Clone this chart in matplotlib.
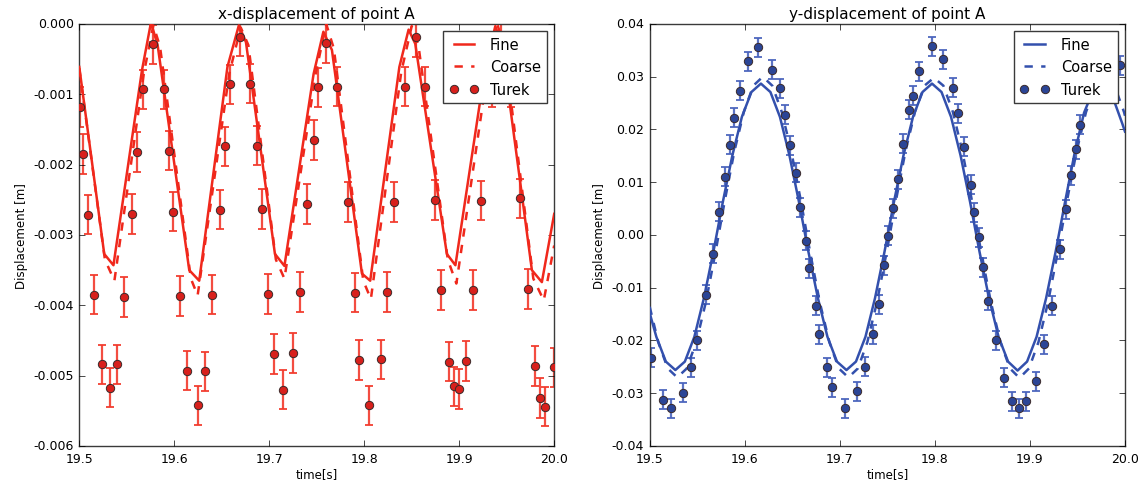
import matplotlib
matplotlib.use("Agg")
import matplotlib.pyplot as plt
from matplotlib.ticker import FormatStrFormatter, MultipleLocator

plt.style.use("classic")
plt.rcParams.update({
    "figure.facecolor": "white",
    "savefig.facecolor": "white",
    "font.family": ["DejaVu Sans"],
    "xtick.labelsize": 9,
    "ytick.labelsize": 9,
    "axes.labelsize": 8.5,
    "axes.titlesize": 11,
    "legend.fontsize": 10.5,
    "axes.edgecolor": "#3a3a3a",
})

# ---------------- x-displacement of point A ----------------
t_fine_x = [19.500, 19.5263, 19.536, 19.566, 19.5755, 19.5825, 19.6158, 19.6263,
            19.656, 19.668, 19.6755, 19.706, 19.716, 19.7467, 19.757, 19.766,
            19.7976, 19.8063, 19.837, 19.8467, 19.8537, 19.887, 19.896, 19.927,
            19.938, 19.945, 19.9765, 19.987, 20.000]
ux_fine = [-0.00061, -0.00327, -0.00343, -0.00066, 0.00002, -0.00030, -0.00350, -0.00365,
           -0.00061, -0.00002, -0.00026, -0.00327, -0.00344, -0.00071, -0.00011, -0.00037,
           -0.00355, -0.00365, -0.00061, -0.00008, -0.00028, -0.00327, -0.00343, -0.00065,
           -0.00003, -0.00030, -0.00350, -0.00367, -0.00270]

t_coarse_x = [19.500, 19.527, 19.537, 19.568, 19.578, 19.585, 19.6175, 19.6246,
              19.658, 19.670, 19.678, 19.707, 19.716, 19.749, 19.760, 19.768,
              19.799, 19.807, 19.839, 19.850, 19.857, 19.888, 19.897, 19.929,
              19.940, 19.947, 19.978, 19.989, 20.000]
ux_coarse = [-0.00063, -0.00335, -0.00365, -0.00070, -0.00002, -0.00032, -0.00362, -0.00386,
             -0.00070, -0.00005, -0.00030, -0.00335, -0.00362, -0.00070, 0.00000, -0.00035,
             -0.00365, -0.00391, -0.00068, -0.00003, -0.00030, -0.00335, -0.00369, -0.00075,
             0.00000, -0.00030, -0.00362, -0.00393, -0.00315]

t_turek_x = [19.5008, 19.504, 19.509, 19.516, 19.524, 19.532, 19.540, 19.547, 19.555, 19.561,
             19.567, 19.578, 19.589, 19.595, 19.599, 19.606, 19.613, 19.625, 19.632, 19.640,
             19.648, 19.653, 19.659, 19.669, 19.680, 19.687, 19.692, 19.699, 19.705, 19.715,
             19.725, 19.732, 19.740, 19.7467, 19.751, 19.760, 19.771, 19.783, 19.790, 19.795,
             19.805, 19.818, 19.824, 19.831, 19.8425, 19.854, 19.864, 19.874, 19.881, 19.8895,
             19.894, 19.900, 19.907, 19.915, 19.923, 19.934, 19.944, 19.955, 19.964, 19.972,
             19.980, 19.985, 19.990, 19.9995]
ux_turek = [-0.00118, -0.00185, -0.00271, -0.00385, -0.00484, -0.00517, -0.00484, -0.00388,
            -0.00270, -0.00182, -0.00093, -0.00029, -0.00093, -0.00180, -0.00267, -0.00387,
            -0.00493, -0.00542, -0.00494, -0.00385, -0.00264, -0.00174, -0.00086, -0.00018,
            -0.00085, -0.00173, -0.00263, -0.00384, -0.00469, -0.00520, -0.00468, -0.00381,
            -0.00256, -0.00165, -0.00090, -0.00027, -0.00089, -0.00253, -0.00382, -0.00478,
            -0.00542, -0.00477, -0.00381, -0.00253, -0.00089, -0.00019, -0.00089, -0.00250,
            -0.00378, -0.00480, -0.00515, -0.00519, -0.00479, -0.00378, -0.00251, -0.00090,
            -0.00020, -0.00090, -0.00248, -0.00377, -0.00486, -0.00532, -0.00544, -0.00488]
ux_err = 0.00028

# ---------------- y-displacement of point A ----------------
t_fine_y = [19.500, 19.507, 19.517, 19.527, 19.537, 19.547, 19.557, 19.567, 19.577, 19.587,
            19.597, 19.607, 19.617, 19.627, 19.637, 19.647, 19.657, 19.667, 19.677, 19.687,
            19.697, 19.707, 19.717, 19.727, 19.737, 19.747, 19.757, 19.767, 19.777, 19.787,
            19.797, 19.807, 19.817, 19.827, 19.837, 19.847, 19.857, 19.867, 19.877, 19.887,
            19.897, 19.907, 19.917, 19.927, 19.937, 19.947, 19.957, 19.967, 19.977, 19.987,
            19.997, 20.000]
uy_fine = [-0.0148, -0.0193, -0.0240, -0.0256, -0.0240, -0.0193, -0.0120, -0.0032, 0.0063, 0.0151,
           0.0224, 0.0271, 0.0287, 0.0271, 0.0224, 0.0151, 0.0063, -0.0032, -0.0120, -0.0193,
           -0.0240, -0.0256, -0.0240, -0.0193, -0.0120, -0.0032, 0.0063, 0.0151, 0.0224, 0.0271,
           0.0287, 0.0271, 0.0224, 0.0151, 0.0063, -0.0032, -0.0120, -0.0193, -0.0240, -0.0257,
           -0.0240, -0.0193, -0.0120, -0.0032, 0.0063, 0.0155, 0.0232, 0.0276, 0.0285, 0.0262,
           0.0212, 0.0196]

t_coarse_y = [19.500, 19.509, 19.519, 19.529, 19.539, 19.549, 19.559, 19.569, 19.579, 19.589,
              19.599, 19.609, 19.619, 19.629, 19.639, 19.649, 19.659, 19.669, 19.679, 19.689,
              19.699, 19.709, 19.719, 19.729, 19.739, 19.749, 19.759, 19.769, 19.779, 19.789,
              19.799, 19.809, 19.819, 19.829, 19.839, 19.849, 19.859, 19.869, 19.879, 19.889,
              19.899, 19.909, 19.919, 19.929, 19.939, 19.949, 19.959, 19.969, 19.979, 19.989,
              19.999, 20.000]
uy_coarse = [-0.0136, -0.0203, -0.0253, -0.0270, -0.0253, -0.0203, -0.0128, -0.0035, 0.0065, 0.0158,
             0.0233, 0.0283, 0.0300, 0.0283, 0.0233, 0.0158, 0.0065, -0.0035, -0.0128, -0.0203,
             -0.0253, -0.0270, -0.0253, -0.0203, -0.0128, -0.0035, 0.0065, 0.0158, 0.0233, 0.0283,
             0.0298, 0.0283, 0.0233, 0.0158, 0.0065, -0.0035, -0.0128, -0.0203, -0.0253, -0.0271,
             -0.0253, -0.0203, -0.0128, -0.0035, 0.0065, 0.0158, 0.0233, 0.0283, 0.0300, 0.0283,
             0.0233, 0.0226]

t_turek_y = [19.5014, 19.5143, 19.5224, 19.5346, 19.5433, 19.5493, 19.5591, 19.5661, 19.573, 19.579,
             19.5843, 19.5888, 19.5948, 19.6035, 19.6144, 19.629, 19.6367, 19.642, 19.6475, 19.6535,
             19.658, 19.664, 19.6675, 19.6745, 19.678, 19.6868, 19.692, 19.7053, 19.7183, 19.727,
             19.7346, 19.741, 19.7467, 19.7511, 19.7564, 19.7616, 19.7668, 19.7731, 19.7766, 19.7836,
             19.7965, 19.8088, 19.8186, 19.8246, 19.8305, 19.8385, 19.8414, 19.8466, 19.8508, 19.856,
             19.8641, 19.8725, 19.8815, 19.8886, 19.8956, 19.9061, 19.9145, 19.9232, 19.9319, 19.9382,
             19.9434, 19.9487, 19.9529, 19.960, 19.968, 19.978, 19.9948]
uy_turek = [-0.0233, -0.0312, -0.0328, -0.0299, -0.0251, -0.0200, -0.0113, -0.0036, 0.0044, 0.0110,
            0.0171, 0.0222, 0.0273, 0.0329, 0.0356, 0.0313, 0.0278, 0.0228, 0.0170, 0.0118,
            0.0053, -0.0011, -0.0063, -0.0134, -0.0188, -0.0251, -0.0289, -0.0328, -0.0296, -0.0250,
            -0.0188, -0.0131, -0.0057, -0.0001, 0.0051, 0.0106, 0.0173, 0.0237, 0.0264, 0.0310,
            0.0358, 0.0333, 0.0279, 0.0231, 0.0167, 0.0095, 0.0043, -0.0004, -0.0061, -0.0125,
            -0.0200, -0.0271, -0.0315, -0.0328, -0.0315, -0.0277, -0.0207, -0.0134, -0.0027, 0.0049,
            0.0113, 0.0163, 0.0209, 0.0280, 0.0330, 0.0356, 0.0322]
uy_err = 0.0018

x_ticks = [19.5, 19.6, 19.7, 19.8, 19.9, 20.0]

red_line = "#f0281c"
red_face = "#d8201c"
red_bar = "#f23a2c"
blue_line = "#3350ad"
blue_face = "#2b4596"
blue_bar = "#4a64bd"

fig = plt.figure(figsize=(11.42, 4.89), dpi=100)
ax1 = fig.add_axes([0.0694, 0.0859, 0.4159, 0.863])
ax2 = fig.add_axes([0.5689, 0.0859, 0.4162, 0.863])


def draw(ax, tf, vf, tc, vc, tt, vt, err, lc, fc, bc):
    ax.errorbar(tt, vt, yerr=err, fmt="none", ecolor=bc, elinewidth=1.6,
                capsize=2.6, capthick=1.4, alpha=0.9, zorder=2)
    ax.plot(tf, vf, "-", color=lc, lw=1.8, label="Fine", zorder=3)
    ax.plot(tc, vc, "--", color=lc, lw=1.8, label="Coarse", zorder=3)
    ax.plot(tt, vt, "o", ms=6, mfc=fc, mec="#3a2a2a", mew=0.7,
            label="Turek", zorder=4)
    ax.set_xlim(19.5, 20.0)
    ax.set_xticks(x_ticks)
    ax.xaxis.set_major_formatter(FormatStrFormatter("%.1f"))
    ax.set_xlabel("time[s]", labelpad=2)
    ax.set_ylabel("Displacement [m]", labelpad=4)
    leg = ax.legend(loc="upper right", numpoints=2, handlelength=2.0,
                    borderaxespad=0.5, framealpha=1.0, fancybox=False)
    leg.get_frame().set_edgecolor("#3a3a3a")
    leg.get_frame().set_linewidth(1.0)
    leg.set_zorder(10)


draw(ax1, t_fine_x, ux_fine, t_coarse_x, ux_coarse, t_turek_x, ux_turek,
     ux_err, red_line, red_face, red_bar)
ax1.set_ylim(-0.006, 0.0)
ax1.yaxis.set_major_locator(MultipleLocator(0.001))
ax1.yaxis.set_major_formatter(FormatStrFormatter("%.3f"))
ax1.set_title("x-displacement of point A", pad=4)

draw(ax2, t_fine_y, uy_fine, t_coarse_y, uy_coarse, t_turek_y, uy_turek,
     uy_err, blue_line, blue_face, blue_bar)
ax2.set_ylim(-0.04, 0.04)
ax2.yaxis.set_major_locator(MultipleLocator(0.01))
ax2.yaxis.set_major_formatter(FormatStrFormatter("%.2f"))
ax2.set_title("y-displacement of point A", pad=4)

fig.savefig("out.png", dpi=100)
